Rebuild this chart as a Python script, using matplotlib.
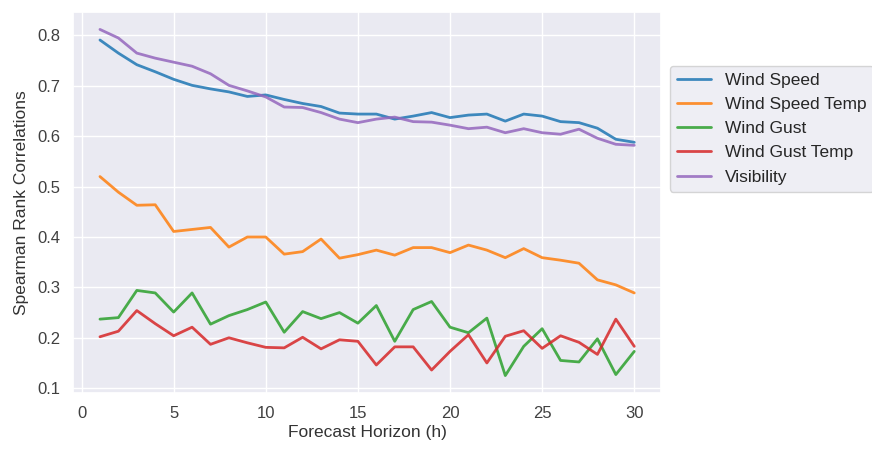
import numpy as np
import matplotlib
matplotlib.use('Agg')
import matplotlib.pyplot as plt
import seaborn as sns

horizon = np.arange(1, 31)

wind_speed = [0.791, 0.765, 0.742, 0.728, 0.713, 0.701, 0.694, 0.688, 0.679, 0.682,
              0.673, 0.665, 0.659, 0.646, 0.644, 0.644, 0.634, 0.640, 0.647, 0.637,
              0.642, 0.644, 0.630, 0.644, 0.640, 0.629, 0.627, 0.616, 0.594, 0.588]
wind_speed_temp = [0.520, 0.489, 0.463, 0.464, 0.411, 0.415, 0.419, 0.380, 0.400, 0.400,
                   0.366, 0.371, 0.396, 0.358, 0.365, 0.374, 0.364, 0.379, 0.379, 0.369,
                   0.384, 0.374, 0.359, 0.377, 0.359, 0.354, 0.348, 0.315, 0.305, 0.289]
wind_gust = [0.237, 0.240, 0.294, 0.289, 0.251, 0.289, 0.227, 0.244, 0.256, 0.271,
             0.211, 0.252, 0.238, 0.250, 0.229, 0.264, 0.193, 0.256, 0.272, 0.221,
             0.210, 0.239, 0.125, 0.183, 0.218, 0.155, 0.152, 0.198, 0.127, 0.173]
wind_gust_temp = [0.202, 0.213, 0.254, 0.228, 0.204, 0.221, 0.187, 0.200, 0.190, 0.181,
                  0.180, 0.201, 0.178, 0.196, 0.193, 0.146, 0.182, 0.182, 0.136, 0.173,
                  0.206, 0.150, 0.203, 0.214, 0.179, 0.204, 0.191, 0.167, 0.237, 0.183]
visibility = [0.812, 0.795, 0.765, 0.755, 0.747, 0.739, 0.724, 0.701, 0.690, 0.678,
              0.658, 0.657, 0.647, 0.634, 0.627, 0.634, 0.638, 0.629, 0.628, 0.622,
              0.615, 0.618, 0.607, 0.615, 0.607, 0.604, 0.614, 0.596, 0.584, 0.582]

series = [
    ('Wind Speed', wind_speed),
    ('Wind Speed Temp', wind_speed_temp),
    ('Wind Gust', wind_gust),
    ('Wind Gust Temp', wind_gust_temp),
    ('Visibility', visibility),
]

sns.set_theme(style='darkgrid')
plt.rcParams['font.family'] = ['Liberation Sans', 'DejaVu Sans']

fig = plt.figure(figsize=(8.72, 4.49), dpi=100)
ax = fig.add_axes([0.084, 0.125, 0.674, 0.848])

colors = plt.get_cmap('tab10').colors
for (name, vals), c in zip(series, colors):
    ax.plot(horizon, vals, color=c, lw=2.0, alpha=0.85, label=name)

ax.set_xticks([0, 5, 10, 15, 20, 25, 30])
ax.set_yticks([0.1, 0.2, 0.3, 0.4, 0.5, 0.6, 0.7, 0.8])
ax.tick_params(labelsize=12, colors='0.25')
ax.set_xlabel('Forecast Horizon (h)', fontsize=12.5, color='0.2', labelpad=3)
ax.set_ylabel('Spearman Rank Correlations', fontsize=12.5, color='0.2', labelpad=6)

ax.legend(loc='upper left', bbox_to_anchor=(1.015, 0.859), borderaxespad=0,
          fontsize=12.5, handlelength=2.0, labelspacing=0.52)

fig.savefig('out.png', dpi=100)
